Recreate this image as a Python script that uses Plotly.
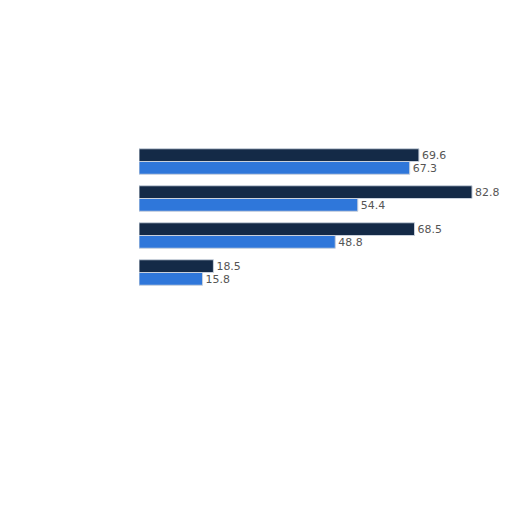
import plotly.graph_objects as go

categories = ["Group 1", "Group 2", "Group 3", "Group 4"]
series_a_name = "Series A"
series_a = [69.6, 82.8, 68.5, 18.5]
series_b_name = "Series B"
series_b = [67.3, 54.4, 48.8, 15.8]

fig = go.Figure()
fig.add_trace(go.Bar(
    y=categories, x=series_a, name=series_a_name, orientation="h",
    marker=dict(color="#142a47", line=dict(color="#c9d1dc", width=1)),
    text=[f"{v:.1f}" for v in series_a], textposition="outside",
    textfont=dict(family="DejaVu Sans", size=12, color="#555555"),
    cliponaxis=False,
))
fig.add_trace(go.Bar(
    y=categories, x=series_b, name=series_b_name, orientation="h",
    marker=dict(color="#2f77da", line=dict(color="#c9d1dc", width=1)),
    text=[f"{v:.1f}" for v in series_b], textposition="outside",
    textfont=dict(family="DejaVu Sans", size=12, color="#555555"),
    cliponaxis=False,
))
fig.update_layout(
    width=512, height=512,
    margin=dict(l=131, r=19, t=135, b=229, autoexpand=False),
    barmode="group", bargap=0.31, bargroupgap=0,
    showlegend=False,
    plot_bgcolor="white", paper_bgcolor="white",
    xaxis=dict(range=[0, 90], visible=False, showgrid=False, zeroline=False,
               automargin=False),
    yaxis=dict(autorange="reversed", showticklabels=False, showgrid=False,
               zeroline=False, ticks="", automargin=False),
)
fig.write_html("out.html")
